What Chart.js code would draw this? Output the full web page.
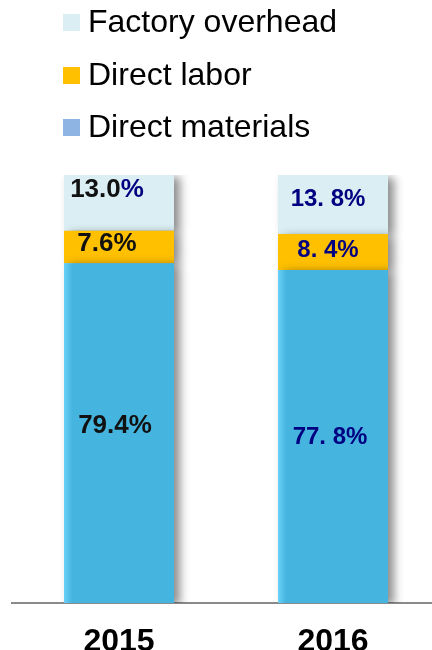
<!DOCTYPE html>
<html>
<head>
<meta charset="utf-8">
<script src="https://cdn.jsdelivr.net/npm/chart.js@4.4.1/dist/chart.umd.min.js"></script>
<style>
  html, body { margin: 0; padding: 0; background: #fff; overflow: hidden; }
  #wrap { width: 432px; height: 650px; overflow: hidden; }
</style>
</head>
<body>
<div id="wrap"><canvas id="cost-chart" width="440" height="650"></canvas></div>
<script>
// data
const years = ['2015', '2016'];
const directMaterials = [79.4, 77.8];
const directLabor = [7.6, 8.4];
const factoryOverhead = [13.0, 13.8];

// colours
const barColours = ['#45B5E0', '#FFC000', '#DAEEF3'];
const legendColours = ['#8EB4E3', '#FFC000', '#DAEEF3'];
const navy = '#000080';

// little nudges so labels sit like the original (dataset x category)
const labelNudge = [
    [{dx: -4, dy: -7}, {dx: -3, dy: 1}],
    [{dx: -12, dy: -3}, {dx: -5, dy: -2}],
    [{dx: -12, dy: -13}, {dx: -5, dy: -5}]
];

function labelFor(v, i) {
    // 2016 labels use the spaced style "77. 8%"
    return v.toFixed(1).replace('.', i === 1 ? '. ' : '.');
}

const shadowPlugin = {
    id: 'barShadow',
    beforeDatasetsDraw(chart) {
        const c = chart.ctx;
        c.save();
        c.shadowColor = 'rgba(0,0,0,0.45)';
        c.shadowBlur = 9;
        c.shadowOffsetX = 6;
        c.shadowOffsetY = 2;
    },
    afterDatasetsDraw(chart) {
        chart.ctx.restore();
        drawEdgeGlow(chart);
        drawLabels(chart);
    }
};

// lighter left edge on the materials bars
function drawEdgeGlow(chart) {
    const c = chart.ctx;
    chart.getDatasetMeta(0).data.forEach(bar => {
        const left = bar.x - bar.width / 2;
        const g = c.createLinearGradient(left, 0, left + 8, 0);
        g.addColorStop(0, 'rgba(110,212,250,0.9)');
        g.addColorStop(1, 'rgba(110,212,250,0)');
        c.fillStyle = g;
        c.fillRect(left, bar.y, 8, bar.base - bar.y);
    });
}

function drawLabels(chart) {
    const c = chart.ctx;
    c.save();
    c.textAlign = 'left';
    c.textBaseline = 'middle';
    chart.data.datasets.forEach((ds, d) => {
        chart.getDatasetMeta(d).data.forEach((bar, i) => {
            const n = labelNudge[d][i];
            const cx = bar.x + n.dx;
            const cy = (bar.y + bar.base) / 2 + n.dy;
            const num = labelFor(ds.data[i], i);
            if (i === 0) {
                c.font = 'bold 26px "Liberation Sans", Arial, sans-serif';
                const w = c.measureText(num + '%').width;
                const x0 = cx - w / 2;
                c.fillStyle = '#111';
                c.fillText(num, x0, cy);
                // overhead 2015 has a navy percent sign
                c.fillStyle = d === 2 ? navy : '#111';
                c.fillText('%', x0 + c.measureText(num).width, cy);
            } else {
                c.font = 'bold 24px "Liberation Sans", Arial, sans-serif';
                const t = num + '%';
                const w = c.measureText(t).width;
                c.fillStyle = navy;
                c.fillText(t, cx - w / 2, cy);
            }
        });
    });
    c.restore();
}

const legendPlugin = {
    id: 'stackLegend',
    afterDraw(chart) {
        const c = chart.ctx;
        const items = chart.data.datasets.map((ds, d) => ({label: ds.label, colour: legendColours[d]})).reverse();
        c.save();
        c.font = '32px "Liberation Sans", Arial, sans-serif';
        c.textBaseline = 'alphabetic';
        c.textAlign = 'left';
        items.forEach((it, k) => {
            const base = Math.round(32 + k * 52.5);
            c.fillStyle = it.colour;
            c.fillRect(63, base - 18, 17, 17);
            c.fillStyle = '#000';
            c.fillText(it.label, 88, base);
        });
        c.restore();
    }
};

const chart = new Chart(document.getElementById('cost-chart'), {
    type: 'bar',
    data: {
        labels: years,
        datasets: [
            {label: 'Direct materials', data: directMaterials, backgroundColor: barColours[0]},
            {label: 'Direct labor', data: directLabor, backgroundColor: barColours[1]},
            {label: 'Factory overhead', data: factoryOverhead, backgroundColor: barColours[2]}
        ]
    },
    options: {
        responsive: false,
        animation: false,
        layout: {padding: {top: 175, left: 12, right: 0, bottom: 0}},
        datasets: {bar: {categoryPercentage: 1, barPercentage: 0.514, borderWidth: 0}},
        plugins: {legend: {display: false}, tooltip: {enabled: false}},
        scales: {
            x: {
                stacked: true,
                grid: {display: false},
                border: {display: true, color: '#8a8a8a', width: 2},
                ticks: {
                    color: '#000',
                    padding: 12,
                    font: {family: '"Liberation Sans", Arial, sans-serif', size: 32, weight: 'bold'}
                },
                afterFit(scale) { scale.height = 47; }
            },
            y: {
                stacked: true,
                display: false,
                min: 0,
                max: 100
            }
        }
    },
    plugins: [shadowPlugin, legendPlugin]
});
</script>
</body>
</html>
